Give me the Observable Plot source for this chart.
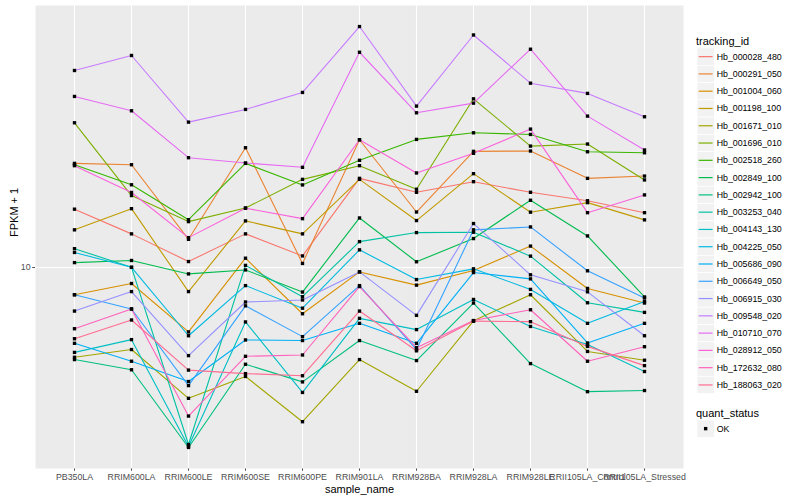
<!DOCTYPE html>
<html>
<head>
<meta charset="utf-8">
<script src="https://cdn.jsdelivr.net/npm/d3@7"></script>
<script src="https://cdn.jsdelivr.net/npm/@observablehq/plot@0.6"></script>
<style>
  body { margin: 0; background: white; }
  #wrap { position: relative; width: 800px; height: 500px; overflow: hidden; font-family: "Liberation Sans", Arial, sans-serif; }
  #chart { position: absolute; left: 0; top: 0; }
  #legend { position: absolute; left: 690px; top: 0; }
</style>
</head>
<body>
<div id="wrap"><div id="chart"></div><div id="legend"></div></div>
<script>
const samples = ["PB350LA", "RRIM600LA", "RRIM600LE", "RRIM600SE", "RRIM600PE", "RRIM901LA",
  "RRIM928BA", "RRIM928LA", "RRIM928LE", "RRII105LA_Control", "RRII105LA_Stressed"];

const trackingIds = ["Hb_000028_480", "Hb_000291_050", "Hb_001004_060", "Hb_001198_100", "Hb_001671_010",
  "Hb_001696_010", "Hb_002518_260", "Hb_002849_100", "Hb_002942_100", "Hb_003253_040",
  "Hb_004143_130", "Hb_004225_050", "Hb_005686_090", "Hb_006649_050", "Hb_006915_030",
  "Hb_009548_020", "Hb_010710_070", "Hb_028912_050", "Hb_172632_080", "Hb_188063_020"];

const colors = ["#F8766D", "#EA8331", "#D89000", "#C09B00", "#A3A500", "#7CAE00", "#39B600", "#00BB4E",
  "#00BF7D", "#00C1A3", "#00BFC4", "#00BAE0", "#00B0F6", "#35A2FF", "#9590FF", "#C77CFF",
  "#E76BF3", "#FA62DB", "#FF62BC", "#FF6C91"];

// FPKM + 1 per sample (order of `samples`)
const hb_000028_480 = [13.09, 11.68, 10.28, 11.68, 10.55, 15.09, 14.15, 14.86, 14.15, 13.61, 12.88];
const hb_000291_050 = [16.17, 16.07, 11.39, 17.38, 10.19, 18.03, 12.92, 17.09, 17.12, 15.09, 15.25];
const hb_001004_060 = [8.82, 9.29, 7.43, 10.44, 8.08, 9.80, 9.22, 9.86, 11.04, 9.08, 8.49];
const hb_001198_100 = [11.90, 13.12, 8.95, 12.40, 11.68, 15.02, 12.42, 15.42, 12.91, 13.49, 12.46];
const hb_001671_010 = [6.61, 6.85, 5.47, 6.05, 4.91, 6.54, 5.65, 7.82, 8.82, 6.79, 6.52];
const hb_001696_010 = [19.50, 13.94, 12.36, 13.16, 15.02, 16.00, 14.35, 21.78, 17.51, 17.68, 14.98];
const hb_002518_260 = [16.07, 14.65, 12.47, 16.17, 14.64, 16.40, 18.06, 18.62, 18.48, 17.06, 16.98];
const hb_002849_100 = [10.23, 10.33, 9.71, 9.89, 8.93, 12.57, 10.27, 11.43, 13.64, 11.57, 8.73];
const hb_002942_100 = [6.54, 6.24, 4.36, 6.40, 5.90, 7.14, 6.51, 8.49, 6.42, 5.64, 5.67];
const hb_003253_040 = [10.91, 10.01, 4.42, 10.10, 8.74, 11.27, 11.75, 11.77, 10.54, 8.50, 8.13];
const hb_004143_130 = [6.76, 7.17, 4.38, 7.78, 5.62, 7.91, 7.51, 8.63, 7.62, 7.01, 6.19];
const hb_004225_050 = [10.72, 10.01, 7.30, 9.20, 8.29, 10.85, 9.46, 9.94, 9.04, 7.73, 8.55];
const hb_005686_090 = [7.05, 6.49, 5.91, 7.16, 7.14, 7.73, 7.05, 9.77, 9.49, 7.06, 7.73];
const hb_006649_050 = [8.82, 8.26, 5.80, 8.38, 7.27, 9.20, 6.85, 11.90, 12.06, 9.85, 8.69];
const hb_006915_030 = [8.18, 8.95, 6.66, 8.53, 8.61, 9.80, 8.02, 12.25, 9.67, 8.94, 7.30];
const hb_009548_020 = [24.82, 26.60, 19.56, 20.74, 22.43, 30.40, 21.06, 29.24, 23.41, 22.33, 20.05];
const hb_010710_070 = [22.02, 20.61, 16.60, 16.20, 15.88, 27.00, 20.42, 21.35, 27.38, 20.11, 17.20];
const hb_028912_050 = [16.00, 14.14, 11.48, 13.15, 12.53, 18.03, 15.47, 16.94, 18.94, 12.88, 13.98];
const hb_172632_080 = [7.54, 8.26, 5.04, 6.64, 6.68, 9.16, 6.91, 7.83, 8.23, 6.49, 6.94];
const hb_188063_020 = [7.20, 7.85, 6.23, 6.13, 6.07, 8.18, 6.81, 7.81, 7.79, 6.95, 6.36];

const seriesValues = [hb_000028_480, hb_000291_050, hb_001004_060, hb_001198_100, hb_001671_010,
  hb_001696_010, hb_002518_260, hb_002849_100, hb_002942_100, hb_003253_040,
  hb_004143_130, hb_004225_050, hb_005686_090, hb_006649_050, hb_006915_030,
  hb_009548_020, hb_010710_070, hb_028912_050, hb_172632_080, hb_188063_020];

const yTicks = [10];
const quantStatus = ["OK"];

const data = trackingIds.flatMap((id, i) =>
  samples.map((s, j) => ({id, sample: s, value: seriesValues[i][j], status: quantStatus[0]})));

const [lo, hi] = d3.extent(data, d => d.value);
const l0 = Math.log10(lo), l1 = Math.log10(hi), pad = (l1 - l0) * 0.05;

const FONT = "'Liberation Sans', Arial, sans-serif";

const chart = Plot.plot({
  width: 690,
  height: 500,
  marginLeft: 35,
  marginRight: 7,
  marginTop: 5,
  marginBottom: 32,
  style: {fontFamily: FONT, fontSize: "8.8px", color: "#4D4D4D", background: "white"},
  x: {type: "point", domain: samples, padding: 0.6, label: null, tickSize: 2.75, tickPadding: 2.2},
  y: {type: "log", domain: [10 ** (l0 - pad), 10 ** (l1 + pad)], ticks: yTicks, tickFormat: d => String(d),
      label: null, tickSize: 2.75, tickPadding: 2.2},
  color: {domain: trackingIds, range: colors},
  marks: [
    Plot.frame({fill: "#EBEBEB", stroke: null}),
    Plot.ruleX(samples, {x: d => d, stroke: "white", strokeWidth: 1.1}),
    Plot.ruleY(yTicks, {y: d => d, stroke: "white", strokeWidth: 1.1}),
    Plot.line(data, {x: "sample", y: "value", z: "id", stroke: "id", strokeWidth: 1.1}),
    Plot.dot(data, {x: "sample", y: "value", symbol: "square", r: 1.9, fill: "black", stroke: null}),
    Plot.text(["sample_name"], {frameAnchor: "bottom", dy: 21, fontSize: 11, fill: "black", lineAnchor: "middle"}),
    Plot.text(["FPKM + 1"], {frameAnchor: "left", dx: -21, rotate: -90, fontSize: 11, fill: "black", lineAnchor: "middle"})
  ]
});
document.getElementById("chart").appendChild(chart);

// Legend (ggplot style)
const keyH = 17.28, ox = 690;
const lg = d3.select("#legend").append("svg").attr("width", 110).attr("height", 500)
  .style("font-family", FONT);
lg.append("text").attr("x", 696 - ox).attr("y", 40.7).attr("dominant-baseline", "central")
  .attr("font-size", 11).attr("fill", "black").text("tracking_id");
trackingIds.forEach((id, i) => {
  const top = 48 + keyH * i, cy = top + keyH / 2;
  lg.append("rect").attr("x", 697 - ox).attr("y", top).attr("width", keyH).attr("height", keyH)
    .attr("fill", "#F2F2F2").attr("stroke", "white").attr("stroke-width", 0.7);
  lg.append("line").attr("x1", 698.7 - ox).attr("x2", 712.6 - ox).attr("y1", cy).attr("y2", cy)
    .attr("stroke", colors[i]).attr("stroke-width", 1.2);
  lg.append("text").attr("x", 716.7 - ox).attr("y", cy).attr("dominant-baseline", "central")
    .attr("font-size", 8.8).attr("fill", "black").text(id);
});
lg.append("text").attr("x", 696 - ox).attr("y", 412.7).attr("dominant-baseline", "central")
  .attr("font-size", 11).attr("fill", "black").text("quant_status");
{
  const top = 420, cy = top + keyH / 2;
  lg.append("rect").attr("x", 697 - ox).attr("y", top).attr("width", keyH).attr("height", keyH)
    .attr("fill", "#F2F2F2").attr("stroke", "white").attr("stroke-width", 0.7);
  lg.append("rect").attr("x", 697 - ox + keyH / 2 - 1.7).attr("y", cy - 1.7).attr("width", 3.4).attr("height", 3.4)
    .attr("fill", "black");
  lg.append("text").attr("x", 716.7 - ox).attr("y", cy).attr("dominant-baseline", "central")
    .attr("font-size", 8.8).attr("fill", "black").text(quantStatus[0]);
}
</script>
</body>
</html>
